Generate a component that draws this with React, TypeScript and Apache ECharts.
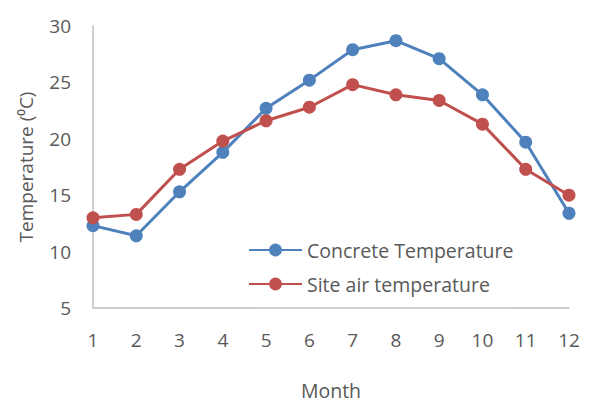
import React, { useEffect, useRef } from "react";
import * as echarts from "echarts";

const months = ["1", "2", "3", "4", "5", "6", "7", "8", "9", "10", "11", "12"];
const concreteTemp = [12.3, 11.4, 15.3, 18.8, 22.7, 25.2, 27.9, 28.7, 27.1, 23.9, 19.7, 13.4];
const siteAirTemp = [13.0, 13.3, 17.3, 19.8, 21.6, 22.8, 24.8, 23.9, 23.4, 21.3, 17.3, 15.0];

const FONT = "'Open Sans', 'Noto Sans', sans-serif";
const TEXT = "#595959";

export default function App() {
  const ref = useRef<HTMLDivElement>(null);
  useEffect(() => {
    if (!ref.current) return;
    const chart = echarts.init(ref.current, undefined, { renderer: "svg" });
    chart.setOption({
      animation: false,
      textStyle: { fontFamily: FONT },
      grid: { left: 93, right: 28, top: 26, bottom: 94, outerBoundsMode: "none", containLabel: false },
      legend: {
        orient: "vertical",
        left: 248,
        top: 240,
        padding: 0,
        itemWidth: 53,
        itemHeight: 16,
        itemGap: 14,
        textStyle: { fontFamily: FONT, fontSize: 19.5, color: TEXT },
        data: ["Concrete Temperature", "Site air temperature"],
      },
      xAxis: {
        type: "category",
        data: months,
        boundaryGap: false,
        name: "Month",
        nameLocation: "middle",
        nameGap: 72,
        nameTextStyle: { fontFamily: FONT, fontSize: 19.5, color: TEXT },
        axisLine: { lineStyle: { color: "#BFBFBF", width: 1.5 } },
        axisTick: { show: false },
        axisLabel: { fontFamily: FONT, fontSize: 19, color: TEXT, margin: 22 },
      },
      yAxis: {
        type: "value",
        min: 5,
        max: 30,
        interval: 5,
        name: "Temperature (⁰C)",
        nameLocation: "middle",
        nameGap: 58,
        nameTextStyle: { fontFamily: FONT, fontSize: 19, color: TEXT },
        axisLine: { show: true, lineStyle: { color: "#BFBFBF", width: 1.5 } },
        axisTick: { show: false },
        splitLine: { show: false },
        axisLabel: { fontFamily: FONT, fontSize: 19, color: TEXT, margin: 22 },
      },
      series: [
        {
          name: "Concrete Temperature",
          type: "line",
          data: concreteTemp,
          symbol: "circle",
          symbolSize: 13,
          lineStyle: { color: "#4F81BD", width: 3 },
          itemStyle: { color: "#4F81BD" },
        },
        {
          name: "Site air temperature",
          type: "line",
          data: siteAirTemp,
          symbol: "circle",
          symbolSize: 13,
          lineStyle: { color: "#C0504D", width: 3 },
          itemStyle: { color: "#C0504D" },
        },
      ],
    });
    return () => chart.dispose();
  }, []);
  return (
    <div
      ref={ref}
      style={{ position: "fixed", left: 0, top: 0, width: 597, height: 402, background: "#fff" }}
    />
  );
}
